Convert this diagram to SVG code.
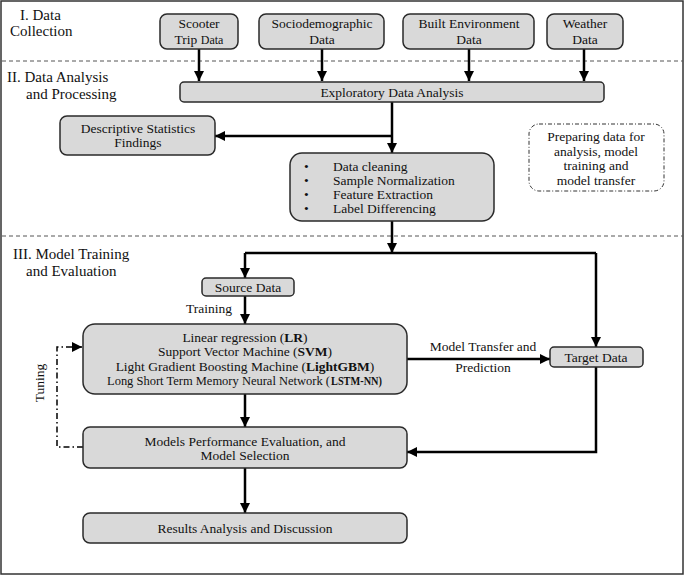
<svg xmlns="http://www.w3.org/2000/svg" width="685" height="576" viewBox="0 0 685 576">
<defs>
<style>
text{font-family:"Liberation Serif","Times New Roman",serif;fill:#111;}
.sec{font-size:15px;}
.t{font-size:13.5px;text-anchor:middle;}
.tl{font-size:13.5px;}
.sm{font-size:11.5px;}
.box{fill:#d9d9d9;stroke:#2a2a2a;stroke-width:1.5;}
.ln{fill:none;stroke:#000;stroke-width:2.5;}
.arr{fill:none;stroke:#000;stroke-width:2.5;marker-end:url(#ah);}
.sep{stroke:#555;stroke-width:1;stroke-dasharray:4 3;}
</style>
<marker id="ah" viewBox="0 0 10 10" refX="10" refY="5" markerUnits="userSpaceOnUse" markerWidth="11" markerHeight="10" orient="auto">
<path d="M0,0 L10,5 L0,10 z" fill="#000"/>
</marker>
</defs>
<rect x="1" y="1" width="682" height="573" fill="#fff" stroke="#333" stroke-width="1.5"/>
<line class="sep" x1="2" y1="61" x2="683" y2="61"/>
<line class="sep" x1="2" y1="236" x2="683" y2="236"/>

<g id="section-labels">
<text class="sec" x="20" y="20">I. Data</text>
<text class="sec" x="10" y="36">Collection</text>
<text class="sec" x="7" y="82">II. Data Analysis</text>
<text class="sec" x="26" y="99">and Processing</text>
<text class="sec" x="13" y="259">III. Model Training</text>
<text class="sec" x="26" y="276">and Evaluation</text>
</g>

<g id="connectors">
<line class="arr" x1="199" y1="49" x2="199" y2="81"/>
<line class="arr" x1="322" y1="49" x2="322" y2="81"/>
<line class="arr" x1="469" y1="49" x2="469" y2="81"/>
<line class="arr" x1="584" y1="49" x2="584" y2="81"/>
<line class="arr" x1="392" y1="102" x2="392" y2="153"/>
<line class="arr" x1="392" y1="136" x2="215" y2="136"/>
<line class="arr" x1="392" y1="221" x2="392" y2="253"/>
<path class="ln" d="M245,253 H596"/>
<line class="arr" x1="245" y1="253" x2="245" y2="278"/>
<line class="arr" x1="596" y1="253" x2="596" y2="347"/>
<line class="arr" x1="245" y1="296" x2="245" y2="324"/>
<line class="arr" x1="407" y1="359" x2="550" y2="359"/>
<path class="arr" d="M596,367 V452 H407"/>
<line class="arr" x1="245" y1="394" x2="245" y2="427"/>
<line class="arr" x1="245" y1="468" x2="245" y2="513"/>
<path d="M83,447 H57 V347 H82" fill="none" stroke="#000" stroke-width="1.5" stroke-dasharray="6 3 1.5 3" marker-end="url(#ah)"/>
<text class="t" x="209" y="313">Training</text>
<text class="t" x="483" y="351">Model Transfer and</text>
<text class="t" x="483" y="372">Prediction</text>
<text class="t" transform="translate(44,383) rotate(-90)">Tuning</text>
</g>

<g id="scooter">
<rect class="box" x="160" y="14" width="78" height="35" rx="7"/>
<text class="t" x="199" y="28">Scooter</text>
<text class="t" x="199" y="44">Trip <tspan font-size="12">Data</tspan></text>
</g>
<g id="sociodemographic">
<rect class="box" x="259" y="14" width="125" height="35" rx="7"/>
<text class="t" x="322" y="28">Sociodemographic</text>
<text class="t" x="322" y="44">Data</text>
</g>
<g id="built-environment">
<rect class="box" x="403" y="14" width="131" height="35" rx="7"/>
<text class="t" x="469" y="28">Built Environment</text>
<text class="t" x="469" y="44">Data</text>
</g>
<g id="weather">
<rect class="box" x="547" y="14" width="76" height="35" rx="7"/>
<text class="t" x="585" y="28">Weather</text>
<text class="t" x="585" y="44">Data</text>
</g>
<g id="eda">
<rect class="box" x="180" y="82" width="424" height="20" rx="4"/>
<text class="t" x="392" y="96.5">Exploratory Data Analysis</text>
</g>
<g id="descriptive">
<rect class="box" x="60" y="116" width="155" height="39" rx="7"/>
<text class="t" x="138" y="133">Descriptive Statistics</text>
<text class="t" x="138" y="147">Findings</text>
</g>
<g id="processing">
<rect class="box" x="290" y="153" width="204" height="68" rx="12"/>
<text class="tl" x="304" y="171">•</text>
<text class="tl" x="304" y="185">•</text>
<text class="tl" x="304" y="199">•</text>
<text class="tl" x="304" y="213">•</text>
<text class="tl" x="333" y="171">Data cleaning</text>
<text class="tl" x="333" y="185">Sample Normalization</text>
<text class="tl" x="333" y="199">Feature Extraction</text>
<text class="tl" x="333" y="213">Label Differencing</text>
</g>
<g id="note">
<rect x="529" y="124" width="135" height="67" rx="10" fill="none" stroke="#333" stroke-width="1" stroke-dasharray="4 2 1 2"/>
<text class="t" x="596" y="141">Preparing data for</text>
<text class="t" x="596" y="156">analysis, model</text>
<text class="t" x="596" y="170">training and</text>
<text class="t" x="596" y="185">model transfer</text>
</g>
<g id="source">
<rect class="box" x="202" y="278" width="92" height="18" rx="4"/>
<text class="t" x="248" y="291.5">Source Data</text>
</g>
<g id="models">
<rect class="box" x="83" y="324" width="324" height="70" rx="12"/>
<text class="t" x="245" y="342">Linear regression (<tspan font-weight="bold">LR</tspan>)</text>
<text class="t" x="245" y="356">Support Vector Machine (<tspan font-weight="bold">SVM</tspan>)</text>
<text class="t" x="245" y="371">Light Gradient Boosting Machine (<tspan font-weight="bold">LightGBM</tspan>)</text>
<text class="sm" x="107" y="385" textLength="223" lengthAdjust="spacingAndGlyphs">Long Short Term Memory Neural Network (</text>
<text class="sm" x="331" y="385" font-weight="bold" textLength="51" lengthAdjust="spacingAndGlyphs">LSTM-NN)</text>
</g>
<g id="target">
<rect class="box" x="550" y="347" width="93" height="20" rx="4"/>
<text class="t" x="596" y="361.5">Target Data</text>
</g>
<g id="evaluation">
<rect class="box" x="83" y="427" width="324" height="41" rx="7"/>
<text class="t" x="245" y="446">Models Performance Evaluation, and</text>
<text class="t" x="245" y="460">Model Selection</text>
</g>
<g id="results">
<rect class="box" x="83" y="513" width="324" height="30" rx="7"/>
<text class="t" x="245" y="533">Results Analysis and Discussion</text>
</g>
</svg>
